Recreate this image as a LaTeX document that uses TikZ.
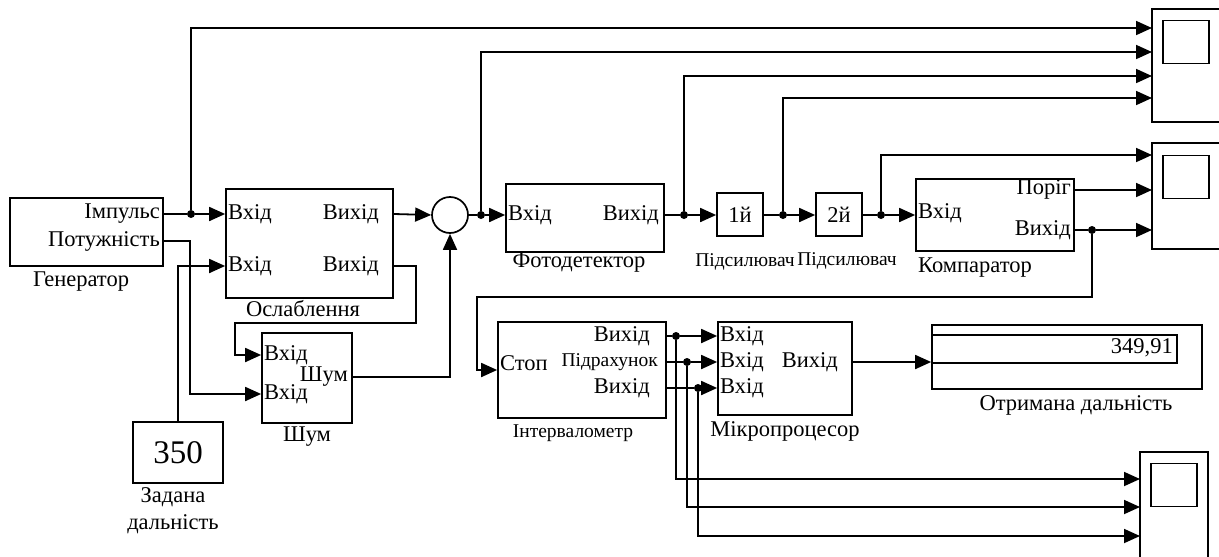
\documentclass[tikz,border=0pt]{standalone}
\usepackage{fontspec}
\setmainfont{Liberation Serif}
\usetikzlibrary{arrows.meta,positioning,calc}

\begin{document}
\begin{tikzpicture}[x=1pt, y=-1pt,
    blk/.style={draw, line width=1.7pt, inner sep=0pt},
    txt/.style={font=\fontsize{22.5}{25}\selectfont, inner sep=1pt},
    small/.style={font=\fontsize{19.5}{22}\selectfont, inner sep=1pt},
    wire/.style={line width=1.8pt},
    sig/.style={wire, -{Triangle[length=16pt,width=14pt]}},
    jdot/.style={circle, fill, inner sep=0pt, minimum size=8pt},
]
    \useasboundingbox (0,0) rectangle (1219,557);

    % blocks
    \node[blk, minimum width=153pt, minimum height=68pt] (gen) at (86.5,232) {};
    \node[blk, minimum width=167pt, minimum height=109pt] (att) at (309.5,243.5) {};
    \node[blk, circle, minimum size=36pt] (sum) at (450,215) {};
    \node[blk, minimum width=90pt, minimum height=90pt] (ns) at (307,378) {};
    \node[blk, minimum width=90pt, minimum height=61pt, font=\fontsize{33}{36}\selectfont] (dist) at (178,452.5) {350};
    \node[blk, minimum width=158pt, minimum height=68pt] (pd) at (585,218) {};
    \node[blk, txt, minimum width=46pt, minimum height=43pt] (amp1) at (740,214.5) {1й};
    \node[blk, txt, minimum width=46pt, minimum height=43pt] (amp2) at (839,214.5) {2й};
    \node[blk, minimum width=158pt, minimum height=72pt] (cmp) at (995,215) {};
    \node[blk, minimum width=168pt, minimum height=96pt] (int) at (582,370) {};
    \node[blk, minimum width=134pt, minimum height=93pt] (mcu) at (785,368.5) {};
    \node[blk, minimum width=270pt, minimum height=64pt] (disp) at (1067,357) {};
    \node[blk, minimum width=245pt, minimum height=28pt] (dispv) at (1054.5,349) {};

    \foreach \n/\cx/\cy/\h/\sy in {sc1/1186/65.5/113/42, sc2/1186/196/106/177, sc3/1174/511/118/485} {
        \node[blk, minimum width=68pt, minimum height=\h pt] (\n) at (\cx,\cy) {};
        \node[blk, minimum width=46pt, minimum height=43pt] (\n-s) at (\cx,\sy) {};
    }
    \foreach \i/\y in {1/28,2/52,3/76,4/98} {
        \coordinate (s1-\i) at (1152,\y);
    }
    \foreach \i/\y in {1/155,2/190,3/230} {
        \coordinate (s2-\i) at (1152,\y);
    }
    \foreach \i/\y in {1/479,2/507,3/536} {
        \coordinate (s3-\i) at (1140,\y);
    }

    % port texts
    \node[txt, anchor=east] (gen-imp) at (161,214) {Імпульс};
    \node[txt, anchor=east] (gen-pot) at (161,241) {Потужність};
    \node[txt, anchor=west] (att-i1) at (227,214) {Вхід};
    \node[txt, anchor=west] (att-i2) at (227,266) {Вхід};
    \node[txt, anchor=east] (att-o1) at (380,214) {Вихід};
    \node[txt, anchor=east] (att-o2) at (380,266) {Вихід};
    \node[txt, anchor=west] (ns-i1) at (263,355) {Вхід};
    \node[txt, anchor=west] (ns-i2) at (263,394) {Вхід};
    \node[txt, anchor=east] (ns-o) at (349,377) {Шум};
    \node[txt, anchor=west] (pd-i) at (507,215) {Вхід};
    \node[txt, anchor=east] (pd-o) at (660,215) {Вихід};
    \node[txt, anchor=west] (cmp-i) at (917,213) {Вхід};
    \node[txt, anchor=east] (cmp-thr) at (1072,189) {Поріг};
    \node[txt, anchor=east] (cmp-o) at (1072,230) {Вихід};
    \node[txt, anchor=east] (int-o1) at (651,336) {Вихід};
    \node[txt, anchor=west] (int-stop) at (499,363) {Стоп};
    \node[small, anchor=east] (int-cnt) at (659,362) {Підрахунок};
    \node[txt, anchor=east] (int-o2) at (651,388) {Вихід};
    \node[txt, anchor=west] (mcu-i1) at (719,336) {Вхід};
    \node[txt, anchor=west] (mcu-i2) at (719,362) {Вхід};
    \node[txt, anchor=west] (mcu-i3) at (719,388) {Вхід};
    \node[txt, anchor=east] (mcu-o) at (839,362) {Вихід};
    \node[txt, anchor=east] (disp-val) at (1174,348) {349,91};

    % captions
    \node[txt] (gen-cap) at (81,282) {Генератор};
    \node[txt] (att-cap) at (303,309) {Ослаблення};
    \node[txt] (ns-cap) at (307,437) {Шум};
    \node[txt] (dist-cap1) at (173,497) {Задана};
    \node[txt] (dist-cap2) at (173,524) {дальність};
    \node[txt] (pd-cap) at (579,263) {Фотодетектор};
    \node[small] (amp1-cap) at (745,262) {Підсилювач};
    \node[small] (amp2-cap) at (847,261) {Підсилювач};
    \node[txt] (cmp-cap) at (975,268) {Компаратор};
    \node[small] (int-cap) at (573,433) {Інтервалометр};
    \node[txt] (mcu-cap) at (785,431) {Мікропроцесор};
    \node[txt] (disp-cap) at (1076,405) {Отримана дальність};

    % junctions and bends
    \node[jdot] (j1) at (191,214) {};
    \node[jdot] (j2) at (481,215) {};
    \node[jdot] (j3) at (684,215) {};
    \node[jdot] (j4) at (783,215) {};
    \node[jdot] (j5) at (881,215) {};
    \node[jdot] (j6) at (1092,230) {};
    \node[jdot] (j7) at (676,336) {};
    \node[jdot] (j8) at (687,362) {};
    \node[jdot] (j9) at (698,388) {};
    \coordinate (b1) at (416,323);
    \coordinate (b2) at (235,355);
    \coordinate (b3) at (190,394);
    \coordinate (b4) at (477,297);

    % connections
    \draw[wire] (gen.east |- gen-imp) -- (j1);
    \draw[sig] (j1) -- (att.west |- j1);
    \draw[sig] (gen.east |- gen-pot) -| (b3) -- (ns.west |- b3);
    \draw[sig] (dist.north) |- (att.west |- att-i2);
    \draw[sig] (att.east |- att-o1) -- (sum.west);
    \draw[sig] (att.east |- att-o2) -| (b1) -| (b2) -- (ns.west |- b2);
    \draw[sig] (ns.east |- ns-o) -| (sum.south);
    \draw[wire] (sum.east) -- (j2);
    \draw[sig] (j2) -- (pd.west |- j2);
    \draw[wire] (pd.east |- j3) -- (j3);
    \draw[sig] (j3) -- (amp1.west |- j3);
    \draw[wire] (amp1.east |- j4) -- (j4);
    \draw[sig] (j4) -- (amp2.west |- j4);
    \draw[wire] (amp2.east |- j5) -- (j5);
    \draw[sig] (j5) -- (cmp.west |- j5);
    \foreach \j/\s in {j1/s1-1, j2/s1-2, j3/s1-3, j4/s1-4, j5/s2-1} {
        \draw[sig] (\j) |- (\s);
    }
    \draw[sig] (cmp.east |- s2-2) -- (s2-2);
    \draw[wire] (cmp.east |- j6) -- (j6);
    \draw[sig] (j6) -- (s2-3);
    \draw[sig] (j6) |- (b4) |- (int.west);
    \foreach \j/\s in {j7/s3-1, j8/s3-2, j9/s3-3} {
        \draw[wire] (int.east |- \j) -- (\j);
        \draw[sig] (\j) -- (mcu.west |- \j);
        \draw[sig] (\j) |- (\s);
    }
    \draw[sig] (mcu.east |- mcu-o) -- (disp.west |- mcu-o);
\end{tikzpicture}
\end{document}
